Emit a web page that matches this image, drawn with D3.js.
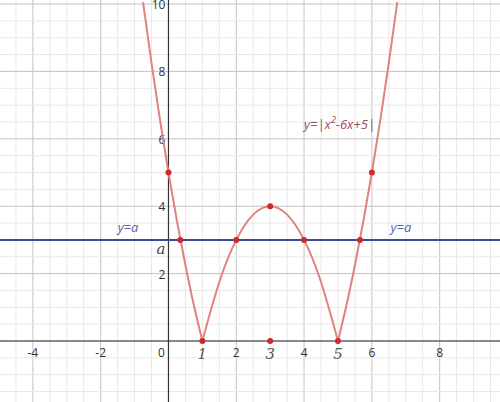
<!DOCTYPE html>
<html>
<head>
<meta charset="utf-8">
<script src="https://cdn.jsdelivr.net/npm/d3@7"></script>
<style>
  body { margin: 0; background: #fff; }
  svg { display: block; }
</style>
</head>
<body>
<div id="my_dataviz"></div>
<script>
// tick labels
var xTicks = [-4, -2, 2, 4, 6, 8];
var xItalicTicks = [1, 3, 5];
var yTicks = [2, 4, 6, 8, 10];

// curve y=|x^2-6x+5|, in 3 branches (cusps at 1 and 5)
var leftX = [-0.75, -0.5, -0.25, 0, 0.25, 0.5, 0.75, 1];
var leftY = [10.06, 8.25, 6.56, 5, 3.56, 2.25, 1.06, 0];
var midX = [1, 1.5, 2, 2.5, 3, 3.5, 4, 4.5, 5];
var midY = [0, 1.75, 3, 3.75, 4, 3.75, 3, 1.75, 0];
var rightX = [5, 5.25, 5.5, 5.75, 6, 6.25, 6.5, 6.75];
var rightY = [0, 1.06, 2.25, 3.56, 5, 6.56, 8.25, 10.06];

// marked points
var dotX = [0, 0.35, 1, 2, 3, 3, 4, 5, 5.65, 6];
var dotY = [5, 3, 0, 3, 4, 0, 3, 0, 3, 5];

// the line y=a
var aValue = 3;

var width = 500, height = 402;

var svg = d3.select("#my_dataviz")
  .append("svg")
  .attr("width", width)
  .attr("height", height);

var x = d3.scaleLinear().domain([-4.97, 9.78]).range([0, width]);
var y = d3.scaleLinear().domain([10.12, -1.81]).range([0, height]);

// minor grid every 0.5
var minorX = d3.range(-5, 10.01, 0.5);
var minorY = d3.range(-2, 10.51, 0.5);
svg.append("g").selectAll("line").data(minorX).enter().append("line")
  .attr("x1", function(d) { return x(d); }).attr("x2", function(d) { return x(d); })
  .attr("y1", 0).attr("y2", height)
  .attr("stroke", function(d) { return d % 2 === 0 ? "#c4c4c4" : "#e8e8e8"; })
  .attr("stroke-width", 1);
svg.append("g").selectAll("line").data(minorY).enter().append("line")
  .attr("y1", function(d) { return y(d); }).attr("y2", function(d) { return y(d); })
  .attr("x1", 0).attr("x2", width)
  .attr("stroke", function(d) { return d % 2 === 0 ? "#c4c4c4" : "#e8e8e8"; })
  .attr("stroke-width", 1);

// axes
svg.append("line")
  .attr("x1", 0).attr("x2", width).attr("y1", y(0)).attr("y2", y(0))
  .attr("stroke", "#333").attr("stroke-width", 1.2);
svg.append("line")
  .attr("x1", x(0)).attr("x2", x(0)).attr("y1", 0).attr("y2", height)
  .attr("stroke", "#333").attr("stroke-width", 1.2);

// x tick labels
svg.append("g").selectAll("text").data(xTicks).enter().append("text")
  .attr("x", function(d) { return x(d); })
  .attr("y", y(0) + 16)
  .attr("text-anchor", "middle")
  .attr("font-family", "Open Sans, Arial, sans-serif")
  .attr("font-size", 12)
  .attr("fill", "#333")
  .text(function(d) { return d; });
svg.append("text")
  .attr("x", x(0) - 7).attr("y", y(0) + 16)
  .attr("text-anchor", "middle")
  .attr("font-family", "Open Sans, Arial, sans-serif")
  .attr("font-size", 12).attr("fill", "#333")
  .text("0");
svg.append("g").selectAll("text").data(xItalicTicks).enter().append("text")
  .attr("x", function(d) { return x(d); })
  .attr("y", y(0) + 18)
  .attr("text-anchor", "middle")
  .attr("font-family", "DejaVu Serif, serif")
  .attr("font-style", "italic")
  .attr("font-size", 15)
  .attr("fill", "#555")
  .text(function(d) { return d; });

// y tick labels
svg.append("g").selectAll("text").data(yTicks).enter().append("text")
  .attr("x", x(0) - 3)
  .attr("y", function(d) { return y(d) + 5; })
  .attr("text-anchor", "end")
  .attr("font-family", "Open Sans, Arial, sans-serif")
  .attr("font-size", 12)
  .attr("fill", "#333")
  .text(function(d) { return d; });
svg.append("text")
  .attr("x", x(0) - 3).attr("y", y(aValue) + 14)
  .attr("text-anchor", "end")
  .attr("font-family", "DejaVu Serif, serif")
  .attr("font-style", "italic")
  .attr("font-size", 15).attr("fill", "#444")
  .text("a");

// the line y=a
svg.append("line")
  .attr("x1", 0).attr("x2", width)
  .attr("y1", y(aValue)).attr("y2", y(aValue))
  .attr("stroke", "#3b4aa0").attr("stroke-width", 2);

// curve
var line = d3.line()
  .x(function(d) { return x(d[0]); })
  .y(function(d) { return y(d[1]); })
  .curve(d3.curveNatural);
[[leftX, leftY], [midX, midY], [rightX, rightY]].forEach(function(b) {
  svg.append("path")
    .datum(d3.zip(b[0], b[1]))
    .attr("d", line)
    .attr("fill", "none")
    .attr("stroke", "#e0837f")
    .attr("stroke-width", 2);
});

// dots
svg.append("g").selectAll("circle").data(d3.zip(dotX, dotY)).enter().append("circle")
  .attr("cx", function(d) { return x(d[0]); })
  .attr("cy", function(d) { return y(d[1]); })
  .attr("r", 3)
  .attr("fill", "#cc2b2b");

// labels
svg.append("text")
  .attr("x", x(-1.5)).attr("y", y(aValue) - 8)
  .attr("font-family", "Open Sans, Arial, sans-serif")
  .attr("font-style", "italic")
  .attr("font-size", 13).attr("fill", "#5563ad")
  .text("y=a");
svg.append("text")
  .attr("x", x(6.55)).attr("y", y(aValue) - 8)
  .attr("font-family", "Open Sans, Arial, sans-serif")
  .attr("font-style", "italic")
  .attr("font-size", 13).attr("fill", "#5563ad")
  .text("y=a");
var lbl = svg.append("text")
  .attr("x", x(4)).attr("y", y(6.3))
  .attr("font-family", "Open Sans, Arial, sans-serif")
  .attr("font-style", "italic")
  .attr("font-size", 13).attr("fill", "#9a4a5c");
lbl.append("tspan").text("y=|x");
lbl.append("tspan").attr("dy", -6).attr("font-size", 9).text("2");
lbl.append("tspan").attr("dy", 6).text("-6x+5|");
</script>
</body>
</html>
